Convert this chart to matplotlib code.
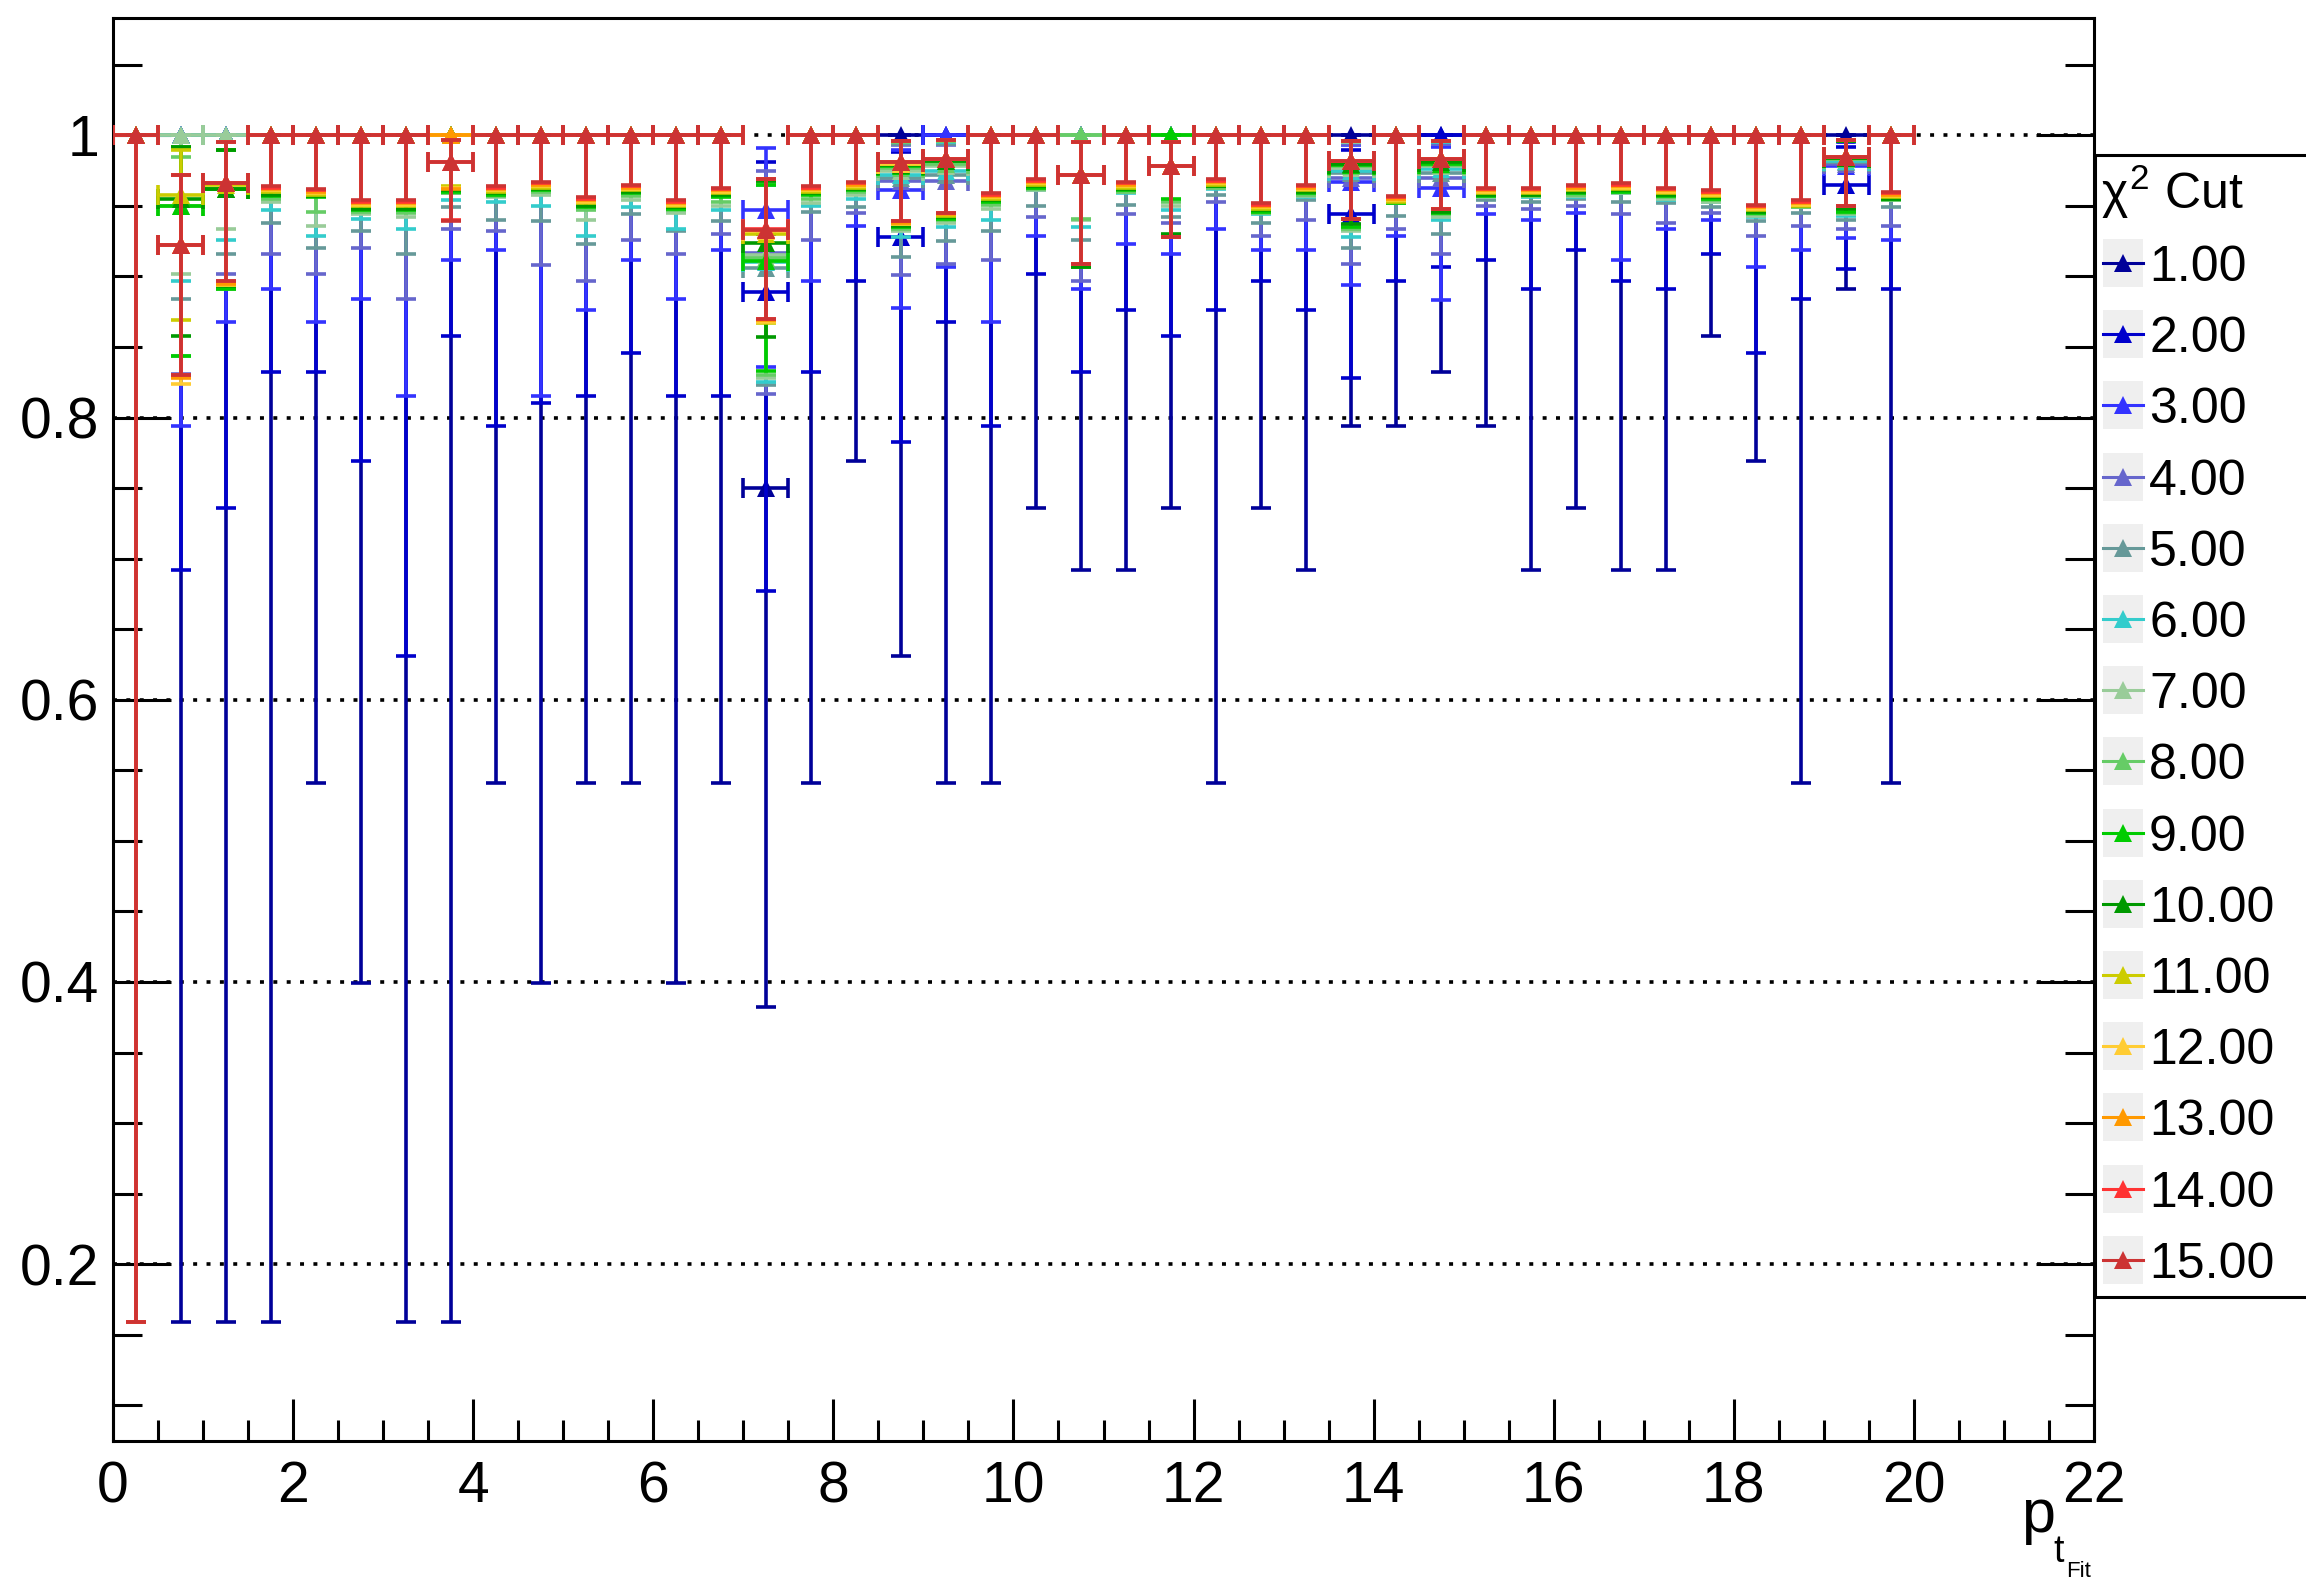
import numpy as np
import matplotlib
matplotlib.use("Agg")
import matplotlib.pyplot as plt
from matplotlib.patches import Rectangle
from matplotlib.lines import Line2D

plt.rcParams['font.family'] = ['Liberation Sans', 'DejaVu Sans']
plt.rcParams['mathtext.fontset'] = 'custom'
plt.rcParams['mathtext.rm'] = 'Liberation Sans'
plt.rcParams['mathtext.it'] = 'Liberation Sans'
plt.rcParams['mathtext.bf'] = 'Liberation Sans:bold'

# chi2 cut values and colours
cut_labels = ['1.00', '2.00', '3.00', '4.00', '5.00', '6.00', '7.00', '8.00',
              '9.00', '10.00', '11.00', '12.00', '13.00', '14.00', '15.00']
cut_colors = ['#000099', '#0000cc', '#3333ff', '#6666cc', '#669999', '#33cccc',
              '#99cc99', '#66cc66', '#00cc00', '#009900', '#cccc00', '#ffcc33',
              '#ff9900', '#ff3333', '#cc3333']

# pt bins: 0..20 in steps of 0.5
bin_half = 0.25
pt_centers = np.arange(0.25, 20.0, 0.5)

# efficiency values
val_c01 = [1, 1, 1, 1, 1, 1, 1, 1, 1, 1,
           1, 1, 1, 1, .750, 1, 1, 1, 1, 1,
           1, 1, 1, 1, 1, 1, 1, 1, 1, 1,
           1, 1, 1, 1, 1, 1, 1, 1, 1, 1]
val_c02 = [1, 1, 1, 1, 1, 1, 1, 1, 1, 1,
           1, 1, 1, 1, .889, 1, 1, .928, 1, 1,
           1, 1, 1, 1, 1, 1, 1, .944, 1, 1,
           1, 1, 1, 1, 1, 1, 1, 1, .965, 1]
val_c03 = [1, 1, 1, 1, 1, 1, 1, 1, 1, 1,
           1, 1, 1, 1, .947, 1, 1, .961, 1, 1,
           1, 1, 1, 1, 1, 1, 1, .967, 1, .963,
           1, 1, 1, 1, 1, 1, 1, 1, .978, 1]
val_c04 = [1, 1, 1, 1, 1, 1, 1, 1, 1, 1,
           1, 1, 1, 1, .917, 1, 1, .968, .968, 1,
           1, 1, 1, 1, 1, 1, 1, .970, 1, .970,
           1, 1, 1, 1, 1, 1, 1, 1, .980, 1]
val_c05 = [1, 1, 1, 1, 1, 1, 1, 1, 1, 1,
           1, 1, 1, 1, .906, 1, 1, .970, .972, 1,
           1, 1, 1, 1, 1, 1, 1, .973, 1, .973,
           1, 1, 1, 1, 1, 1, 1, 1, .981, 1]
val_c06 = [1, 1, 1, 1, 1, 1, 1, 1, 1, 1,
           1, 1, 1, 1, .910, 1, 1, .972, .975, 1,
           1, 1, 1, 1, 1, 1, 1, .975, 1, .976,
           1, 1, 1, 1, 1, 1, 1, 1, .982, 1]
val_c07 = [1, 1, 1, 1, 1, 1, 1, 1, 1, 1,
           1, 1, 1, 1, .915, 1, 1, .975, .978, 1,
           1, 1, 1, 1, 1, 1, 1, .977, 1, .978,
           1, 1, 1, 1, 1, 1, 1, 1, .983, 1]
val_c08 = [1, .950, .962, 1, 1, 1, 1, 1, 1, 1,
           1, 1, 1, 1, .913, 1, 1, .977, .980, 1,
           1, 1, 1, 1, 1, 1, 1, .978, 1, .979,
           1, 1, 1, 1, 1, 1, 1, 1, .983, 1]
val_c09 = [1, .950, .962, 1, 1, 1, 1, 1, 1, 1,
           1, 1, 1, 1, .911, 1, 1, .978, .982, 1,
           1, .972, 1, 1, 1, 1, 1, .979, 1, .980,
           1, 1, 1, 1, 1, 1, 1, 1, .984, 1]
val_c10 = [1, .955, .962, 1, 1, 1, 1, 1, 1, 1,
           1, 1, 1, 1, .924, 1, 1, .979, .982, 1,
           1, .972, 1, .978, 1, 1, 1, .980, 1, .981,
           1, 1, 1, 1, 1, 1, 1, 1, .984, 1]
val_c11 = [1, .958, .965, 1, 1, 1, 1, 1, 1, 1,
           1, 1, 1, 1, .930, 1, 1, .980, .983, 1,
           1, .972, 1, .978, 1, 1, 1, .982, 1, .983,
           1, 1, 1, 1, 1, 1, 1, 1, .985, 1]
val_c12 = [1, .922, .966, 1, 1, 1, 1, 1, 1, 1,
           1, 1, 1, 1, .932, 1, 1, .980, .983, 1,
           1, .972, 1, .978, 1, 1, 1, .982, 1, .983,
           1, 1, 1, 1, 1, 1, 1, 1, .985, 1]
val_c13 = [1, .922, .966, 1, 1, 1, 1, 1, 1, 1,
           1, 1, 1, 1, .933, 1, 1, .981, .983, 1,
           1, .972, 1, .978, 1, 1, 1, .982, 1, .983,
           1, 1, 1, 1, 1, 1, 1, 1, .985, 1]
val_c14 = [1, .922, .966, 1, 1, 1, 1, .981, 1, 1,
           1, 1, 1, 1, .934, 1, 1, .981, .983, 1,
           1, .972, 1, .978, 1, 1, 1, .982, 1, .983,
           1, 1, 1, 1, 1, 1, 1, 1, .985, 1]
val_c15 = [1, .922, .966, 1, 1, 1, 1, .981, 1, 1,
           1, 1, 1, 1, .933, 1, 1, .981, .983, 1,
           1, .972, 1, .978, 1, 1, 1, .982, 1, .983,
           1, 1, 1, 1, 1, 1, 1, 1, .985, 1]

# lower edge of the error bars
lo_c01 = [.159, .159, .159, .159, .541, .399, .159, .159, .541, .399,
          .541, .541, .399, .541, .382, .541, .769, .631, .541, .541,
          .736, .692, .692, .736, .541, .736, .692, .794, .794, .832,
          .794, .692, .736, .692, .692, .858, .769, .541, .891, .541]
lo_c02 = [.159, .692, .736, .832, .832, .769, .631, .858, .794, .810,
          .815, .846, .815, .815, .677, .832, .897, .783, .868, .794,
          .902, .832, .876, .858, .876, .897, .876, .828, .897, .907,
          .912, .891, .919, .897, .891, .916, .846, .884, .905, .891]
lo_c03 = [.159, .794, .868, .891, .868, .884, .815, .912, .919, .815,
          .876, .912, .884, .919, .836, .897, .936, .878, .907, .868,
          .929, .891, .923, .916, .934, .919, .919, .894, .929, .883,
          .944, .940, .945, .912, .934, .940, .907, .919, .927, .926]
lo_c04 = [.159, .831, .902, .916, .902, .920, .884, .934, .932, .908,
          .897, .926, .916, .930, .817, .926, .945, .901, .909, .912,
          .942, .897, .944, .938, .953, .929, .940, .909, .934, .916,
          .950, .948, .950, .944, .938, .945, .929, .936, .934, .936]
lo_c05 = [.159, .884, .916, .938, .920, .932, .916, .949, .940, .939,
          .923, .944, .932, .939, .823, .946, .949, .914, .925, .932,
          .950, .926, .951, .942, .958, .938, .954, .920, .943, .930,
          .954, .953, .955, .953, .952, .949, .939, .945, .940, .949]
lo_c06 = [.159, .897, .926, .947, .929, .941, .934, .954, .953, .950,
          .929, .949, .934, .947, .825, .950, .955, .928, .935, .940,
          .961, .935, .959, .947, .962, .944, .956, .928, .952, .940,
          .956, .956, .956, .959, .954, .953, .942, .949, .943, .954]
lo_c07 = [.159, .902, .934, .953, .936, .944, .942, .959, .956, .958,
          .940, .954, .945, .950, .828, .952, .958, .932, .938, .948,
          .961, .940, .960, .950, .963, .945, .957, .932, .952, .942,
          .956, .957, .957, .959, .955, .953, .943, .949, .944, .954]
lo_c08 = [.159, .844, .891, .955, .946, .946, .945, .959, .957, .960,
          .947, .957, .947, .953, .830, .955, .960, .934, .940, .951,
          .962, .941, .960, .953, .963, .945, .958, .934, .952, .944,
          .957, .957, .958, .960, .956, .954, .944, .949, .945, .954]
lo_c09 = [.159, .844, .891, .957, .956, .947, .947, .960, .958, .961,
          .949, .959, .948, .956, .833, .958, .961, .935, .941, .953,
          .963, .907, .961, .955, .964, .946, .959, .935, .952, .945,
          .957, .958, .959, .960, .957, .955, .945, .950, .946, .955]
lo_c10 = [.159, .858, .893, .958, .957, .948, .948, .961, .959, .962,
          .950, .960, .949, .958, .857, .959, .962, .936, .942, .954,
          .964, .907, .962, .930, .964, .947, .960, .937, .953, .946,
          .958, .958, .960, .961, .958, .956, .946, .950, .948, .955]
lo_c11 = [.159, .869, .894, .960, .958, .950, .950, .964, .960, .963,
          .952, .961, .950, .959, .867, .960, .963, .937, .943, .955,
          .965, .909, .963, .928, .965, .948, .961, .941, .953, .948,
          .959, .959, .961, .962, .959, .957, .947, .950, .950, .956]
lo_c12 = [.159, .824, .894, .961, .959, .951, .951, .963, .961, .964,
          .953, .962, .951, .960, .868, .961, .964, .937, .944, .956,
          .966, .909, .964, .928, .966, .949, .962, .941, .954, .948,
          .960, .960, .962, .963, .960, .958, .948, .951, .950, .957]
lo_c13 = [.159, .828, .895, .962, .960, .952, .952, .962, .962, .965,
          .954, .963, .952, .961, .869, .962, .965, .938, .944, .957,
          .967, .909, .965, .928, .967, .950, .963, .941, .955, .948,
          .961, .961, .963, .964, .961, .959, .949, .952, .950, .958]
lo_c14 = [.159, .830, .897, .963, .961, .953, .953, .940, .963, .966,
          .955, .964, .953, .962, .870, .963, .966, .939, .945, .958,
          .968, .909, .966, .928, .968, .951, .964, .941, .956, .948,
          .962, .962, .964, .965, .962, .960, .950, .953, .950, .959]
lo_c15 = [.159, .830, .897, .964, .962, .954, .954, .939, .964, .967,
          .956, .965, .954, .963, .870, .964, .967, .939, .945, .959,
          .969, .909, .967, .928, .969, .952, .965, .941, .957, .948,
          .963, .963, .965, .966, .963, .961, .951, .954, .950, .960]

# upper edge of the error bars
hi_c01 = [1, 1, 1, 1, 1, 1, 1, 1, 1, 1,
          1, 1, 1, 1, .930, 1, 1, 1, 1, 1,
          1, 1, 1, 1, 1, 1, 1, 1, 1, 1,
          1, 1, 1, 1, 1, 1, 1, 1, 1, 1]
hi_c02 = [1, 1, 1, 1, 1, 1, 1, 1, 1, 1,
          1, 1, 1, 1, .981, 1, 1, .988, 1, 1,
          1, 1, 1, 1, 1, 1, 1, .990, 1, 1,
          1, 1, 1, 1, 1, 1, 1, 1, .992, 1]
hi_c03 = [1, 1, 1, 1, 1, 1, 1, 1, 1, 1,
          1, 1, 1, 1, .991, 1, 1, .990, 1, 1,
          1, 1, 1, 1, 1, 1, 1, .993, 1, .992,
          1, 1, 1, 1, 1, 1, 1, 1, .995, 1]
hi_c04 = [1, 1, 1, 1, 1, 1, 1, 1, 1, 1,
          1, 1, 1, 1, .975, 1, 1, .993, .993, 1,
          1, 1, 1, 1, 1, 1, 1, .994, 1, .994,
          1, 1, 1, 1, 1, 1, 1, 1, .996, 1]
hi_c05 = [1, 1, 1, 1, 1, 1, 1, 1, 1, 1,
          1, 1, 1, 1, .965, 1, 1, .994, .994, 1,
          1, 1, 1, 1, 1, 1, 1, .995, 1, .995,
          1, 1, 1, 1, 1, 1, 1, 1, .996, 1]
hi_c06 = [1, 1, 1, 1, 1, 1, 1, 1, 1, 1,
          1, 1, 1, 1, .965, 1, 1, .995, .995, 1,
          1, 1, 1, 1, 1, 1, 1, .995, 1, .995,
          1, 1, 1, 1, 1, 1, 1, 1, .996, 1]
hi_c07 = [1, 1, 1, 1, 1, 1, 1, 1, 1, 1,
          1, 1, 1, 1, .967, 1, 1, .995, .996, 1,
          1, 1, 1, 1, 1, 1, 1, .995, 1, .996,
          1, 1, 1, 1, 1, 1, 1, 1, .996, 1]
hi_c08 = [1, .985, .990, 1, 1, 1, 1, 1, 1, 1,
          1, 1, 1, 1, .966, 1, 1, .995, .996, 1,
          1, 1, 1, 1, 1, 1, 1, .996, 1, .996,
          1, 1, 1, 1, 1, 1, 1, 1, .996, 1]
hi_c09 = [1, .992, .990, 1, 1, 1, 1, 1, 1, 1,
          1, 1, 1, 1, .965, 1, 1, .996, .997, 1,
          1, .995, 1, 1, 1, 1, 1, .996, 1, .996,
          1, 1, 1, 1, 1, 1, 1, 1, .996, 1]
hi_c10 = [1, .992, .990, 1, 1, 1, 1, 1, 1, 1,
          1, 1, 1, 1, .968, 1, 1, .996, .997, 1,
          1, .995, 1, .995, 1, 1, 1, .996, 1, .996,
          1, 1, 1, 1, 1, 1, 1, 1, .996, 1]
hi_c11 = [1, .990, .995, 1, 1, 1, 1, 1, 1, 1,
          1, 1, 1, 1, .969, 1, 1, .996, .997, 1,
          1, .995, 1, .995, 1, 1, 1, .996, 1, .996,
          1, 1, 1, 1, 1, 1, 1, 1, .997, 1]
hi_c12 = [1, .972, .995, 1, 1, 1, 1, 1, 1, 1,
          1, 1, 1, 1, .969, 1, 1, .996, .997, 1,
          1, .995, 1, .995, 1, 1, 1, .996, 1, .996,
          1, 1, 1, 1, 1, 1, 1, 1, .997, 1]
hi_c13 = [1, .972, .995, 1, 1, 1, 1, 1, 1, 1,
          1, 1, 1, 1, .969, 1, 1, .996, .997, 1,
          1, .995, 1, .995, 1, 1, 1, .996, 1, .996,
          1, 1, 1, 1, 1, 1, 1, 1, .997, 1]
hi_c14 = [1, .972, .995, 1, 1, 1, 1, .997, 1, 1,
          1, 1, 1, 1, .969, 1, 1, .996, .997, 1,
          1, .995, 1, .995, 1, 1, 1, .996, 1, .996,
          1, 1, 1, 1, 1, 1, 1, 1, .997, 1]
hi_c15 = [1, .972, .995, 1, 1, 1, 1, .997, 1, 1,
          1, 1, 1, 1, .969, 1, 1, .996, .997, 1,
          1, .995, 1, .995, 1, 1, 1, .996, 1, .996,
          1, 1, 1, 1, 1, 1, 1, 1, .997, 1]

eff = [val_c01, val_c02, val_c03, val_c04, val_c05, val_c06, val_c07, val_c08,
       val_c09, val_c10, val_c11, val_c12, val_c13, val_c14, val_c15]
eff_lo = [lo_c01, lo_c02, lo_c03, lo_c04, lo_c05, lo_c06, lo_c07, lo_c08,
          lo_c09, lo_c10, lo_c11, lo_c12, lo_c13, lo_c14, lo_c15]
eff_hi = [hi_c01, hi_c02, hi_c03, hi_c04, hi_c05, hi_c06, hi_c07, hi_c08,
          hi_c09, hi_c10, hi_c11, hi_c12, hi_c13, hi_c14, hi_c15]

W, H = 2306, 1579


def fx(px):
    return px / W


def fy(py):
    return 1 - py / H


fig = plt.figure(figsize=(W / 100, H / 100), dpi=100)
ax = fig.add_axes([fx(113), fy(1441), (2094 - 113) / W, (1441 - 18) / H])

for i in range(len(cut_labels)):
    v = np.array(eff[i], dtype=float)
    lo = np.array(eff_lo[i], dtype=float)
    hi = np.array(eff_hi[i], dtype=float)
    cont = ax.errorbar(pt_centers, v, xerr=bin_half, yerr=[v - lo, hi - v],
                       fmt='^', color=cut_colors[i], ms=12.5,
                       elinewidth=2.6, capsize=7.5, capthick=2.6,
                       zorder=3 + 0.5 * i)
    cont[0].set_markeredgewidth(0)

# axes
ax.set_xlim(0, 22)
ax.set_ylim(0.0747, 1.0832)
ax.set_xticks(np.arange(0, 23, 2))
ax.set_xticks(np.arange(0, 22.01, 0.5), minor=True)
ax.set_yticks([0.2, 0.4, 0.6, 0.8, 1.0])
ax.set_yticklabels(['0.2', '0.4', '0.6', '0.8', '1'])
ax.set_yticks(np.arange(0.1, 1.081, 0.05), minor=True)
ax.tick_params(axis='both', which='both', direction='in', width=2.2,
               labelsize=41, colors='black')
ax.tick_params(axis='y', which='major', length=42, right=True, pad=10)
ax.tick_params(axis='y', which='minor', length=21, right=True)
ax.tick_params(axis='x', which='major', length=30, pad=14)
ax.tick_params(axis='x', which='minor', length=15)
for s in ax.spines.values():
    s.set_linewidth(2.2)
ax.set_axisbelow(True)
ax.yaxis.grid(True, which='major', color='black', linestyle=(0, (1.1, 2.6)),
              linewidth=2.6)

# x axis title: p with nested subscripts, ROOT style
fig.text(fx(2021), fy(1532), 'p', fontsize=44, va='baseline')
fig.text(fx(2053), fy(1562), 't', fontsize=27, va='baseline')
fig.text(fx(2066), fy(1577), 'Fit', fontsize=16, va='baseline')

# legend drawn by hand (ROOT style)
fig.add_artist(Rectangle((fx(2095), fy(1297)), 0.2, (1297 - 155) / H,
                         transform=fig.transFigure, fill=False,
                         edgecolor='black', linewidth=2.2))
fig.text(fx(2101), fy(209), r'$\chi^{2}$ Cut', fontsize=36, va='baseline')
for k in range(len(cut_labels)):
    cy = 263 + 71.2 * k
    fig.add_artist(Rectangle((fx(2103), fy(cy + 24)), 40 / W, 48 / H,
                             transform=fig.transFigure, facecolor='#efefef',
                             edgecolor='none'))
    fig.add_artist(Line2D([fx(2103), fx(2143)], [fy(cy), fy(cy)],
                          color=cut_colors[k], lw=2.2, transform=fig.transFigure))
    fig.add_artist(Line2D([fx(2123)], [fy(cy)], marker='^', ms=12.5, mew=0,
                          color=cut_colors[k], transform=fig.transFigure))
    fig.text(fx(2149), fy(cy + 18), cut_labels[k], fontsize=36, va='baseline')

fig.savefig('out.png', dpi=100)
